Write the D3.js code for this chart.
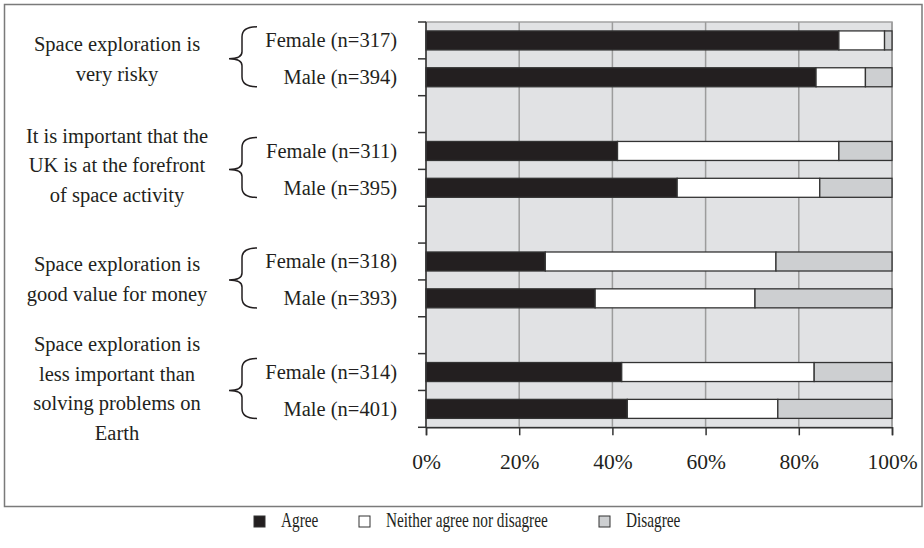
<!DOCTYPE html>
<html lang="en">
<head>
<meta charset="utf-8">
<script src="https://d3js.org/d3.v7.min.js"></script>
<style>
  body { margin: 0; background: #fff; }
</style>
</head>
<body>
<script>
// the data
var rowLabels = ["Female (n=317)", "Male (n=394)", "Female (n=311)", "Male (n=395)",
                 "Female (n=318)", "Male (n=393)", "Female (n=314)", "Male (n=401)"];
var agree    = [88.6, 83.7, 41.1, 53.9, 25.6, 36.3, 42.0, 43.2];
var neither  = [ 9.8, 10.6, 47.5, 30.6, 49.5, 34.3, 41.3, 32.3];
var disagree = [ 1.6,  5.7, 11.4, 15.5, 24.9, 29.4, 16.7, 24.5];
var statements = [
  ["Space exploration is", "very risky"],
  ["It is important that the", "UK is at the forefront", "of space activity"],
  ["Space exploration is", "good value for money"],
  ["Space exploration is", "less important than", "solving problems on", "Earth"]
];
var categories = ["Agree", "Neither agree nor disagree", "Disagree"];
var xTicks = [0, 20, 40, 60, 80, 100];

var colours = {"Agree": "#231f20", "Neither agree nor disagree": "#ffffff", "Disagree": "#cdcfd1"};
var serif = "Liberation Serif";

var width = 924, height = 548;
var svg = d3.select("body").append("svg")
            .attr("width", width)
            .attr("height", height);

// outer frame
svg.append("rect")
   .attr("x", 4.5).attr("y", 4.5)
   .attr("width", 917.5).attr("height", 502)
   .attr("fill", "none").attr("stroke", "#7a7a7a").attr("stroke-width", 1.5);

var plot = {left: 426, right: 892, top: 22, bottom: 427.3};

// rows, with an empty slot between each statement
var rows = rowLabels.map(function(l, i) {
  return {label: l, slot: i + Math.floor(i / 2),
          "Agree": agree[i], "Neither agree nor disagree": neither[i], "Disagree": disagree[i]};
});

var x = d3.scaleLinear().domain([0, 100]).range([plot.left, plot.right]);
var pad = 0.484;
var y = d3.scaleBand().domain(d3.range(11))
          .range([plot.top, plot.bottom])
          .paddingInner(pad).paddingOuter(pad / 2);

// plot background
svg.append("rect")
   .attr("x", plot.left).attr("y", plot.top)
   .attr("width", plot.right - plot.left).attr("height", plot.bottom - plot.top)
   .attr("fill", "#e1e2e4").attr("stroke", "#a3a3a3").attr("stroke-width", 1.5);

// gridlines
svg.append("g").selectAll("line")
   .data(xTicks.slice(1))
   .enter().append("line")
   .attr("x1", function(d) { return x(d); }).attr("x2", function(d) { return x(d); })
   .attr("y1", plot.top).attr("y2", plot.bottom)
   .attr("stroke", "#9c9c9c").attr("stroke-width", 1.5);

// stacked bars
var stack = d3.stack().keys(categories)(rows);
svg.append("g").selectAll("g")
   .data(stack)
   .enter().append("g")
   .attr("fill", function(d) { return colours[d.key]; })
   .selectAll("rect")
   .data(function(d) { return d; })
   .enter().append("rect")
   .attr("x", function(d) { return x(d[0]); })
   .attr("width", function(d) { return x(d[1]) - x(d[0]); })
   .attr("y", function(d) { return y(d.data.slot); })
   .attr("height", y.bandwidth())
   .attr("stroke", "#333")
   .attr("stroke-width", 1.3);

// left axis with ticks at slot boundaries
var leftAxis = svg.append("g");
leftAxis.append("line")
   .attr("x1", plot.left).attr("x2", plot.left)
   .attr("y1", plot.top).attr("y2", plot.bottom)
   .attr("stroke", "#333").attr("stroke-width", 1.5);
leftAxis.selectAll(".tk")
   .data(d3.range(12))
   .enter().append("line")
   .attr("x1", plot.left - 8).attr("x2", plot.left)
   .attr("y1", function(i) { return plot.top + i * y.step(); })
   .attr("y2", function(i) { return plot.top + i * y.step(); })
   .attr("stroke", "#333").attr("stroke-width", 1.5);

// bottom axis
var xAxis = d3.axisBottom(x).tickValues(xTicks)
              .tickFormat(function(d) { return d + "%"; })
              .tickSize(8).tickPadding(18);
var gx = svg.append("g")
   .attr("transform", "translate(0," + plot.bottom + ")")
   .call(xAxis);
gx.select(".domain").attr("stroke", "#333").attr("stroke-width", 1.5);
gx.selectAll(".tick line").attr("stroke", "#333").attr("stroke-width", 1.5);
gx.selectAll(".tick text")
  .style("font-family", serif)
  .style("font-size", "21.5px")
  .attr("fill", "#231f20");

// row labels
svg.append("g").selectAll("text")
   .data(rows)
   .enter().append("text")
   .attr("x", 397)
   .attr("y", function(d) { return y(d.slot) + y.bandwidth() / 2 + 7; })
   .attr("text-anchor", "end")
   .style("font-family", serif)
   .style("font-size", "20.5px")
   .attr("fill", "#231f20")
   .text(function(d) { return d.label; });

// statements and braces
var lineOffset = [7, 3, 6, 5];
statements.forEach(function(lines, g) {
  var c = plot.top + (g * 3 + 1) * y.step();
  var n = lines.length;
  svg.append("g").selectAll("text")
     .data(lines)
     .enter().append("text")
     .attr("x", 117)
     .attr("y", function(d, i) { return c + (i - (n - 1) / 2) * 29.5 + lineOffset[g]; })
     .attr("text-anchor", "middle")
     .style("font-family", serif)
     .style("font-size", "20.5px")
     .attr("fill", "#231f20")
     .text(function(d) { return d; });

  var top = c - 32, bot = c + 28, sx = 242, tip = 229, ex = 257;
  var p = "M" + ex + "," + top +
          " Q" + sx + "," + top + " " + sx + "," + (top + 10) +
          " L" + sx + "," + (c - 7) +
          " Q" + sx + "," + c + " " + tip + "," + c +
          " Q" + sx + "," + c + " " + sx + "," + (c + 7) +
          " L" + sx + "," + (bot - 10) +
          " Q" + sx + "," + bot + " " + ex + "," + bot;
  svg.append("path").attr("d", p)
     .attr("fill", "none").attr("stroke", "#231f20").attr("stroke-width", 1.5);
});

// legend (the reference text is set narrow)
var legendX = [254, 359, 599];
var leg = svg.append("g").selectAll("g")
   .data(categories)
   .enter().append("g")
   .attr("transform", function(d, i) { return "translate(" + legendX[i] + ",516)"; });
leg.append("rect")
   .attr("width", 11).attr("height", 11)
   .attr("fill", function(d) { return colours[d]; })
   .attr("stroke", "#333").attr("stroke-width", 1);
leg.append("text")
   .attr("transform", "translate(27,11) scale(0.765,1)")
   .style("font-family", serif)
   .style("font-size", "20px")
   .attr("fill", "#231f20")
   .text(function(d) { return d; });
</script>
</body>
</html>
